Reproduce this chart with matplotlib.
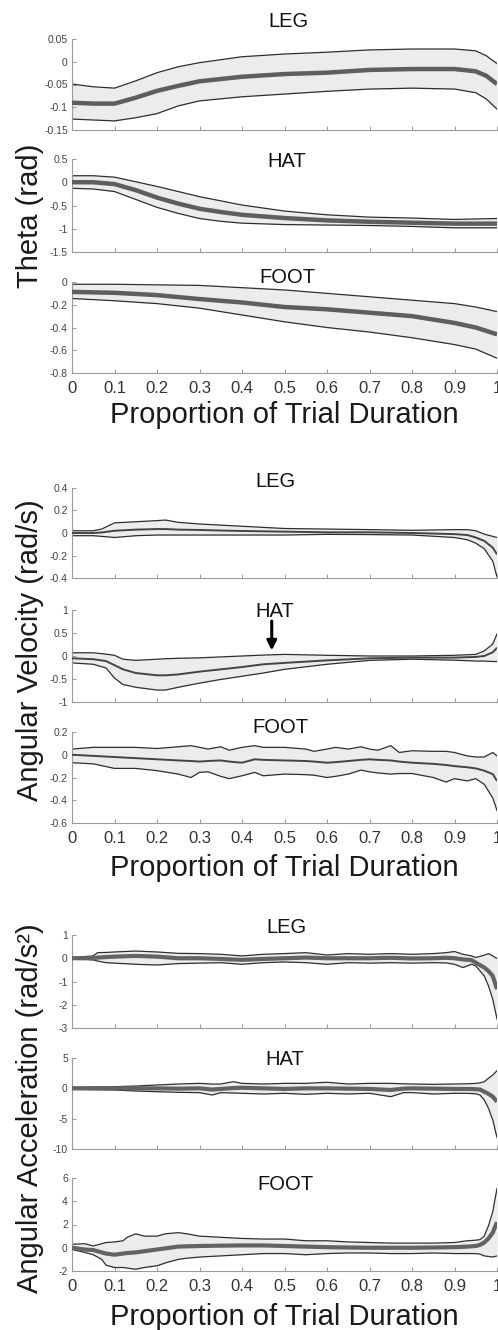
import numpy as np
import matplotlib
matplotlib.use("Agg")
import matplotlib.pyplot as plt
from matplotlib.ticker import FuncFormatter

plt.rcParams['font.family'] = ['Liberation Sans', 'DejaVu Sans']

# ---- Theta (rad) ----
theta_leg_x = [0, 0.05, 0.1, 0.15, 0.2, 0.25, 0.3, 0.4, 0.5, 0.6, 0.7, 0.8, 0.9, 0.95, 0.975, 1.0]
theta_leg_hi = [-0.049, -0.055, -0.058, -0.042, -0.024, -0.011, -0.002, 0.011, 0.017, 0.021, 0.026, 0.028, 0.028, 0.024, 0.013, -0.004]
theta_leg_mean = [-0.09, -0.092, -0.092, -0.079, -0.064, -0.053, -0.043, -0.033, -0.027, -0.024, -0.018, -0.016, -0.016, -0.021, -0.031, -0.049]
theta_leg_lo = [-0.126, -0.128, -0.130, -0.123, -0.114, -0.097, -0.086, -0.077, -0.071, -0.065, -0.060, -0.058, -0.060, -0.068, -0.082, -0.104]

theta_hat_x = [0, 0.05, 0.1, 0.15, 0.2, 0.25, 0.3, 0.35, 0.4, 0.5, 0.6, 0.7, 0.8, 0.9, 1.0]
theta_hat_hi = [0.14, 0.14, 0.11, 0.01, -0.09, -0.2, -0.31, -0.4, -0.49, -0.62, -0.7, -0.75, -0.77, -0.8, -0.78]
theta_hat_mean = [0, 0, -0.04, -0.17, -0.33, -0.46, -0.57, -0.64, -0.7, -0.77, -0.82, -0.85, -0.87, -0.89, -0.89]
theta_hat_lo = [-0.13, -0.145, -0.2, -0.37, -0.54, -0.67, -0.78, -0.84, -0.88, -0.91, -0.92, -0.93, -0.95, -0.98, -0.98]

theta_foot_x = [0, 0.1, 0.2, 0.3, 0.4, 0.5, 0.6, 0.7, 0.8, 0.9, 0.95, 1.0]
theta_foot_hi = [-0.02, -0.02, -0.025, -0.03, -0.05, -0.07, -0.10, -0.13, -0.16, -0.19, -0.22, -0.26]
theta_foot_mean = [-0.087, -0.095, -0.115, -0.15, -0.18, -0.22, -0.24, -0.27, -0.30, -0.36, -0.40, -0.46]
theta_foot_lo = [-0.145, -0.165, -0.19, -0.23, -0.29, -0.35, -0.40, -0.44, -0.49, -0.55, -0.59, -0.67]

# ---- Angular velocity (rad/s) ----
vel_leg_x = [0, 0.05, 0.07, 0.1, 0.15, 0.2, 0.22, 0.25, 0.3, 0.35, 0.4, 0.5, 0.6, 0.7, 0.8, 0.9, 0.93, 0.95, 0.97, 0.99, 1.0]
vel_leg_hi = [0.02, 0.02, 0.035, 0.09, 0.1, 0.11, 0.115, 0.095, 0.08, 0.07, 0.06, 0.04, 0.035, 0.03, 0.024, 0.03, 0.03, 0.02, -0.01, -0.03, -0.04]
vel_leg_mean = [0, 0, 0.005, 0.02, 0.03, 0.035, 0.035, 0.03, 0.027, 0.022, 0.018, 0.012, 0.006, 0.006, 0, -0.01, -0.018, -0.04, -0.07, -0.13, -0.19]
vel_leg_lo = [-0.024, -0.024, -0.03, -0.04, -0.024, -0.018, -0.018, -0.018, -0.018, -0.018, -0.018, -0.018, -0.012, -0.014, -0.018, -0.04, -0.06, -0.09, -0.14, -0.25, -0.39]

vel_hat_x = [0, 0.05, 0.08, 0.1, 0.12, 0.15, 0.2, 0.22, 0.25, 0.3, 0.35, 0.4, 0.45, 0.5, 0.6, 0.7, 0.8, 0.9, 0.95, 0.97, 0.99, 1.0]
vel_hat_hi = [0.07, 0.07, 0.04, 0.015, -0.07, -0.095, -0.07, -0.06, -0.05, -0.04, -0.02, 0, 0.02, 0.035, 0.015, 0, 0, 0.015, 0.035, 0.11, 0.26, 0.48]
vel_hat_mean = [-0.05, -0.07, -0.11, -0.2, -0.29, -0.37, -0.42, -0.42, -0.4, -0.34, -0.29, -0.24, -0.18, -0.15, -0.095, -0.05, -0.035, -0.035, -0.02, 0.0, 0.08, 0.18]
vel_hat_lo = [-0.15, -0.18, -0.26, -0.48, -0.62, -0.68, -0.74, -0.74, -0.68, -0.59, -0.51, -0.44, -0.37, -0.29, -0.18, -0.095, -0.07, -0.09, -0.11, -0.11, -0.12, -0.12]

vel_foot_x = [0, 0.05, 0.1, 0.15, 0.2, 0.25, 0.28, 0.3, 0.32, 0.35, 0.37, 0.4, 0.43, 0.45, 0.5, 0.55, 0.57,
              0.6, 0.62, 0.65, 0.68, 0.7, 0.72, 0.75, 0.77, 0.8, 0.85, 0.88, 0.9, 0.93, 0.95, 0.97, 0.99, 1.0]
vel_foot_hi = [0.05, 0.065, 0.065, 0.065, 0.055, 0.07, 0.08, 0.065, 0.05, 0.07, 0.04, 0.065, 0.08, 0.065, 0.065, 0.05, 0.03,
               0.05, 0.065, 0.05, 0.07, 0.05, 0.04, 0.08, 0.02, 0.035, 0.03, 0.03, 0.02, -0.01, -0.02, -0.02, 0.02, -0.01]
vel_foot_mean = [0, -0.01, -0.02, -0.03, -0.04, -0.05, -0.055, -0.06, -0.055, -0.05, -0.06, -0.07, -0.04, -0.045, -0.05, -0.055, -0.06,
                 -0.07, -0.065, -0.055, -0.045, -0.04, -0.045, -0.05, -0.06, -0.07, -0.08, -0.09, -0.1, -0.11, -0.12, -0.14, -0.17, -0.23]
vel_foot_lo = [-0.07, -0.08, -0.12, -0.12, -0.14, -0.17, -0.2, -0.155, -0.15, -0.19, -0.21, -0.185, -0.155, -0.185, -0.17, -0.175, -0.18,
               -0.2, -0.19, -0.17, -0.135, -0.15, -0.16, -0.17, -0.165, -0.165, -0.2, -0.24, -0.21, -0.23, -0.21, -0.26, -0.38, -0.49]

# ---- Angular acceleration (rad/s^2) ----
acc_leg_x = [0, 0.05, 0.06, 0.08, 0.1, 0.15, 0.2, 0.25, 0.3, 0.35, 0.4, 0.45, 0.5, 0.55, 0.6, 0.65, 0.7, 0.75,
             0.8, 0.85, 0.88, 0.9, 0.92, 0.94, 0.95, 0.97, 0.98, 0.99, 1.0]
acc_leg_hi = [0.03, 0.1, 0.24, 0.25, 0.27, 0.31, 0.27, 0.21, 0.2, 0.17, 0.1, 0.17, 0.2, 0.24, 0.14, 0.2, 0.17, 0.2,
              0.17, 0.2, 0.24, 0.29, 0.17, 0.1, 0.03, 0.13, 0.2, 0.1, -0.01]
acc_leg_mean = [0, 0, 0.03, 0.05, 0.07, 0.1, 0.07, 0, 0, -0.03, -0.07, -0.03, 0, 0.03, 0, 0, 0, 0.02,
                -0.01, 0, 0.02, 0, -0.05, -0.08, -0.19, -0.4, -0.55, -0.76, -1.33]
acc_leg_lo = [-0.01, -0.07, -0.12, -0.19, -0.21, -0.26, -0.29, -0.23, -0.21, -0.19, -0.26, -0.19, -0.16, -0.19, -0.26, -0.19, -0.21, -0.19,
              -0.21, -0.19, -0.2, -0.26, -0.4, -0.26, -0.33, -0.76, -1.19, -1.76, -2.61]

acc_hat_x = [0, 0.1, 0.15, 0.2, 0.25, 0.3, 0.33, 0.35, 0.38, 0.4, 0.45, 0.5, 0.55, 0.6, 0.65, 0.7, 0.75, 0.78,
             0.8, 0.85, 0.9, 0.93, 0.95, 0.96, 0.97, 0.98, 0.99, 1.0]
acc_hat_hi = [0.16, 0.27, 0.38, 0.55, 0.71, 0.82, 0.7, 0.71, 1.1, 0.82, 0.71, 0.82, 0.82, 1.0, 0.71, 0.82, 0.82, 0.75,
              0.71, 0.66, 0.71, 0.75, 0.82, 0.9, 1.1, 1.65, 2.2, 2.9]
acc_hat_mean = [0, 0, 0, 0, -0.05, 0, -0.2, -0.1, 0.05, 0.1, 0, -0.1, 0, 0, -0.05, -0.1, -0.27, -0.05,
                0, -0.05, -0.1, -0.1, -0.15, -0.2, -0.55, -0.9, -1.37, -2.2]
acc_hat_lo = [-0.16, -0.27, -0.44, -0.55, -0.66, -0.71, -1.1, -0.71, -0.77, -0.82, -0.93, -0.82, -0.99, -0.82, -0.93, -0.82, -1.37, -0.71,
              -0.71, -0.93, -0.82, -0.82, -0.9, -1.1, -1.92, -3.3, -5.2, -8.1]

acc_foot_x = [0, 0.03, 0.05, 0.07, 0.08, 0.1, 0.12, 0.13, 0.15, 0.17, 0.2, 0.22, 0.25, 0.27, 0.3, 0.35, 0.4,
              0.45, 0.5, 0.55, 0.6, 0.65, 0.7, 0.75, 0.8, 0.85, 0.9, 0.93, 0.95, 0.96, 0.97, 0.98, 0.99, 1.0]
acc_foot_hi = [0.3, 0.35, 0.15, 0.35, 0.45, 0.5, 0.6, 0.9, 1.2, 1.0, 1.0, 1.2, 1.3, 1.2, 1.0, 0.9, 0.8,
               0.75, 0.75, 0.6, 0.6, 0.5, 0.45, 0.4, 0.4, 0.4, 0.45, 0.6, 0.65, 0.7, 1.0, 1.9, 3.1, 5.1]
acc_foot_mean = [0, -0.15, -0.2, -0.4, -0.5, -0.6, -0.5, -0.45, -0.4, -0.3, -0.15, -0.05, 0.1, 0.12, 0.15, 0.18, 0.2,
                 0.2, 0.15, 0.1, 0.05, 0.02, 0, 0, 0, 0.02, 0.05, 0.1, 0.15, 0.25, 0.45, 0.8, 1.3, 2.2]
acc_foot_lo = [-0.15, -0.4, -0.6, -1.0, -1.5, -1.7, -1.7, -1.75, -1.85, -1.7, -1.55, -1.3, -1.0, -0.9, -0.8, -0.7, -0.6,
               -0.5, -0.5, -0.6, -0.5, -0.45, -0.45, -0.5, -0.5, -0.45, -0.5, -0.5, -0.5, -0.55, -0.7, -0.75, -0.8, -0.7]

segments = ["LEG", "HAT", "FOOT"]
x_ticks = [0, 0.1, 0.2, 0.3, 0.4, 0.5, 0.6, 0.7, 0.8, 0.9, 1]

groups = [
    dict(ylabel="Theta (rad)", mean_lw=3.2, mean_color="#5e5e5e",
         series=[(theta_leg_x, theta_leg_hi, theta_leg_mean, theta_leg_lo),
                 (theta_hat_x, theta_hat_hi, theta_hat_mean, theta_hat_lo),
                 (theta_foot_x, theta_foot_hi, theta_foot_mean, theta_foot_lo)],
         ylims=[(-0.15, 0.05), (-1.5, 0.5), (-0.8, 0)],
         ysteps=[0.05, 0.5, 0.2],
         boxes=[(39, 130), (159, 252), (282, 373)],
         titles=[(288, 27), (287, 167), (287, 283)],
         xlabel_y=415, ylabel_y=216),
    dict(ylabel="Angular Velocity (rad/s)", mean_lw=1.4, mean_color="#444444",
         series=[(vel_leg_x, vel_leg_hi, vel_leg_mean, vel_leg_lo),
                 (vel_hat_x, vel_hat_hi, vel_hat_mean, vel_hat_lo),
                 (vel_foot_x, vel_foot_hi, vel_foot_mean, vel_foot_lo)],
         ylims=[(-0.4, 0.4), (-1, 1), (-0.6, 0.2)],
         ysteps=[0.2, 0.5, 0.2],
         boxes=[(488, 578), (610, 702), (732, 823)],
         titles=[(275, 487), (275, 617), (280, 733)],
         xlabel_y=868, ylabel_y=650),
    dict(ylabel="Angular Acceleration (rad/s\u00b2)", mean_lw=3.0, mean_color="#636363",
         series=[(acc_leg_x, acc_leg_hi, acc_leg_mean, acc_leg_lo),
                 (acc_hat_x, acc_hat_hi, acc_hat_mean, acc_hat_lo),
                 (acc_foot_x, acc_foot_hi, acc_foot_mean, acc_foot_lo)],
         ylims=[(-3, 1), (-10, 5), (-2, 6)],
         ysteps=[1, 5, 2],
         boxes=[(935, 1028), (1058, 1149), (1178, 1271)],
         titles=[(286, 933), (285, 1065), (285, 1190)],
         xlabel_y=1317, ylabel_y=1108),
]

W, H = 498, 1330
fig = plt.figure(figsize=(W / 100, H / 100), dpi=100)
left, right = 72, 497


def tick_fmt(v, pos):
    if abs(v) < 1e-9:
        return "0"
    return "%g" % round(v, 6)


fmt = FuncFormatter(tick_fmt)

for g in groups:
    for i, seg in enumerate(segments):
        top, bot = g["boxes"][i]
        ax = fig.add_axes([left / W, 1 - bot / H, (right - left) / W, (bot - top) / H])
        x, hi, mean, lo = g["series"][i]
        ax.fill_between(x, lo, hi, color="#ececec", lw=0, zorder=1)
        ax.plot(x, hi, color="#2e2e2e", lw=0.9, zorder=2)
        ax.plot(x, lo, color="#2e2e2e", lw=0.9, zorder=2)
        ax.plot(x, mean, color=g["mean_color"], lw=g["mean_lw"], zorder=3, solid_capstyle="butt")

        y0, y1 = g["ylims"][i]
        ax.set_xlim(0, 1)
        ax.set_ylim(y0, y1)
        ax.set_yticks(np.arange(y0, y1 + 1e-9, g["ysteps"][i]))
        ax.yaxis.set_major_formatter(fmt)
        ax.set_xticks(x_ticks)
        if i == 2:
            ax.set_xticklabels([("%g" % t) for t in x_ticks])
        else:
            ax.set_xticklabels([])

        for s in ["top", "right"]:
            ax.spines[s].set_visible(False)
        for s in ["left", "bottom"]:
            ax.spines[s].set_color("#9a9a9a")
            ax.spines[s].set_linewidth(0.8)
        ax.tick_params(axis="both", direction="in", length=3, width=0.7, color="#9a9a9a")
        ax.tick_params(axis="y", labelsize=7.5, labelcolor="#444444", pad=3)
        ax.tick_params(axis="x", labelsize=12, labelcolor="#333333", pad=6)
        ax.patch.set_alpha(0)

        tx, ty = g["titles"][i]
        fig.text(tx / W, 1 - ty / H, seg, fontsize=14.5, ha="center", va="baseline", color="#111111")

        if g["ylabel"].startswith("Angular Velocity") and seg == "HAT":
            ax.annotate("", xy=(0.47, 0.12), xytext=(0.47, 0.76),
                        arrowprops=dict(arrowstyle="-|>", lw=2.2, color="black", mutation_scale=14,
                                        shrinkA=0, shrinkB=0))

    fig.text(284 / W, 1 - g["xlabel_y"] / H, "Proportion of Trial Duration", fontsize=21,
             ha="center", va="center", color="#1a1a1a")
    fig.text(30 / W, 1 - g["ylabel_y"] / H, g["ylabel"], fontsize=21, rotation=90,
             ha="center", va="center", color="#1a1a1a")

fig.savefig("out.png", dpi=100, facecolor="white")
